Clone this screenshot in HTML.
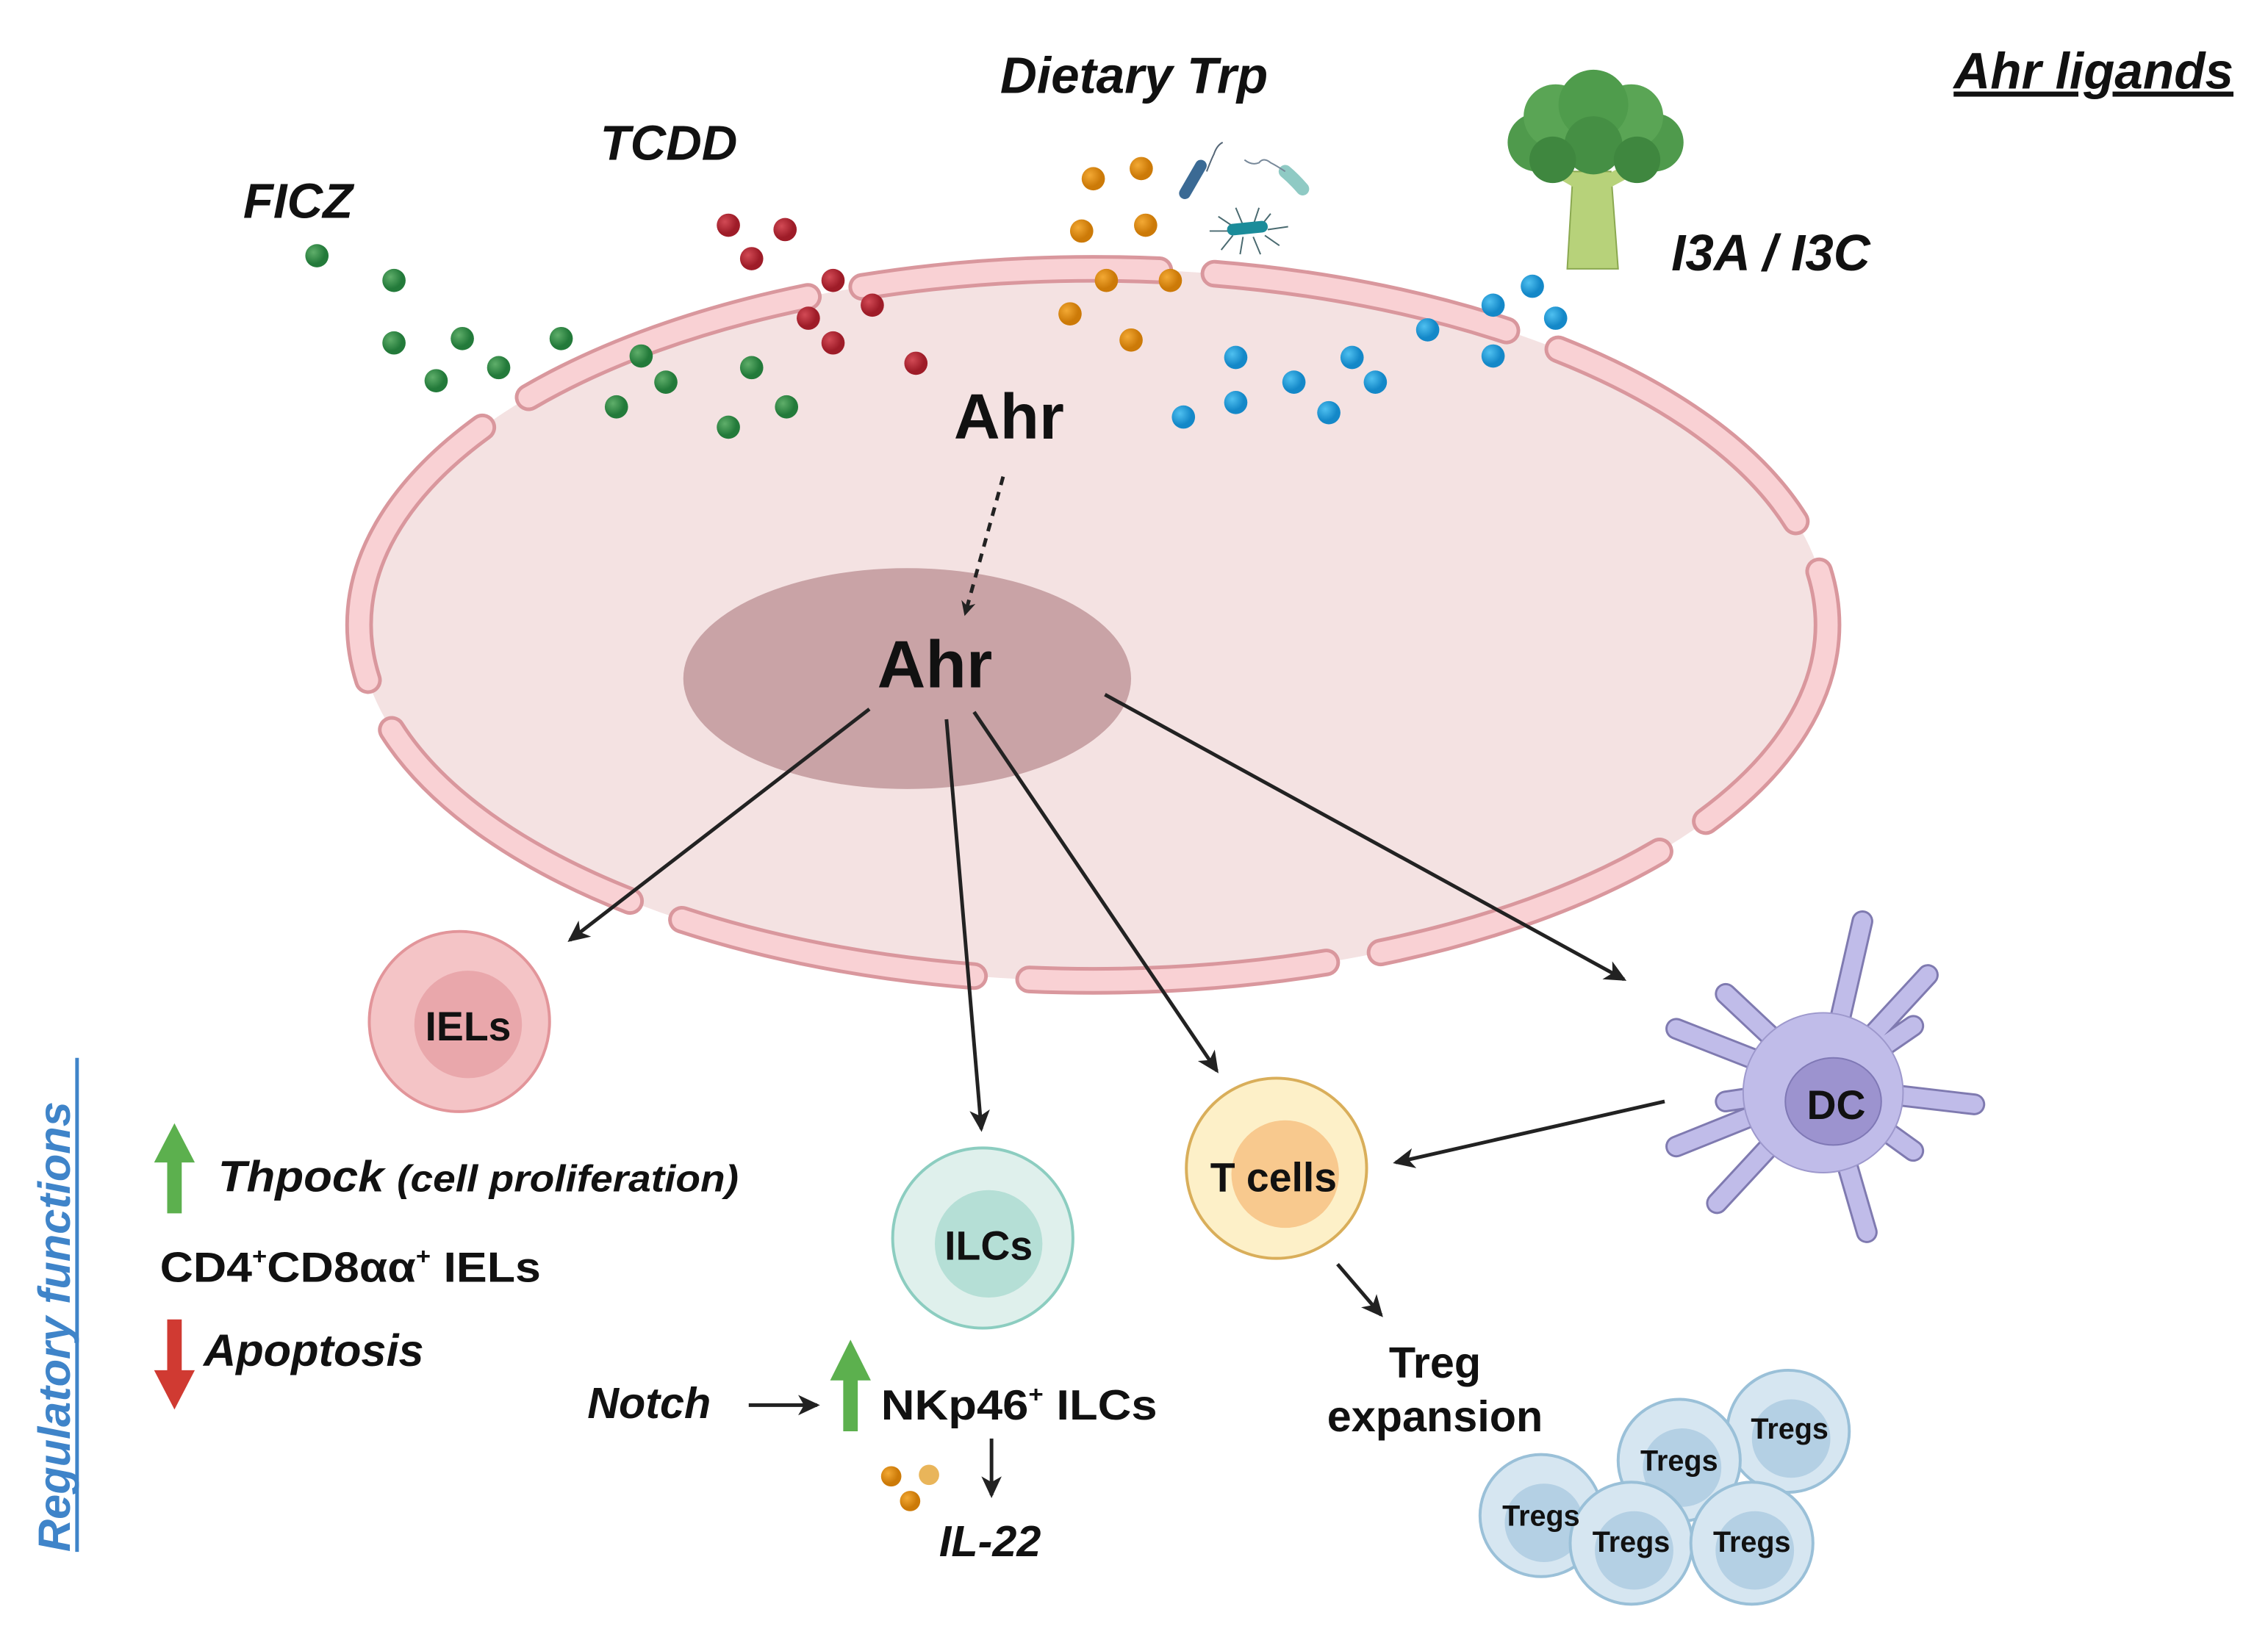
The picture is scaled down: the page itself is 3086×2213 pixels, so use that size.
<!DOCTYPE html>
<html><head><meta charset="utf-8"><style>
html,body{margin:0;padding:0;background:#fff;}
svg{display:block;}
text{font-family:"Liberation Sans",sans-serif;font-weight:bold;fill:#111;}
</style></head><body>
<svg width="3086" height="2213" viewBox="0 0 1560 1119" preserveAspectRatio="none" xmlns="http://www.w3.org/2000/svg">
<defs>
<marker id="ah2" markerWidth="16" markerHeight="16" refX="13" refY="8" orient="auto" markerUnits="userSpaceOnUse"><path d="M0,1 L15,8 L0,15 L4,8 Z" fill="#222"/></marker>
<marker id="ah" markerWidth="10" markerHeight="10" refX="8" refY="5" orient="auto" markerUnits="userSpaceOnUse"><path d="M0,0 L10,5 L0,10 L3,5 Z" fill="#222"/></marker>
<radialGradient id="gd" cx="35%" cy="35%"><stop offset="0" stop-color="#5fae6a"/><stop offset="1" stop-color="#237a3a"/></radialGradient>
<radialGradient id="rd" cx="35%" cy="35%"><stop offset="0" stop-color="#d24a55"/><stop offset="1" stop-color="#9e1c28"/></radialGradient>
<radialGradient id="od" cx="35%" cy="35%"><stop offset="0" stop-color="#f3a934"/><stop offset="1" stop-color="#cc7a08"/></radialGradient>
<radialGradient id="bd" cx="35%" cy="35%"><stop offset="0" stop-color="#4fc0f0"/><stop offset="1" stop-color="#1488c8"/></radialGradient>
</defs>

<ellipse cx="752" cy="430" rx="505" ry="245" fill="#f4e2e2"/>
<ellipse cx="752" cy="430" rx="505" ry="245" fill="none" stroke="#d9979d" stroke-width="19" stroke-dasharray="205 38" stroke-dashoffset="40" stroke-linecap="round"/>
<ellipse cx="752" cy="430" rx="505" ry="245" fill="none" stroke="#f9d1d4" stroke-width="14" stroke-dasharray="205 38" stroke-dashoffset="40" stroke-linecap="round"/>

<ellipse cx="624" cy="467" rx="154" ry="76" fill="#c9a3a6"/>

<text x="694" y="302" font-size="44" text-anchor="middle">Ahr</text>
<text x="643" y="473" font-size="46" text-anchor="middle">Ahr</text>
<line x1="690" y1="328" x2="664" y2="422" stroke="#222" stroke-width="2.5" stroke-dasharray="6 5" marker-end="url(#ah)"/>

<text x="205" y="150" font-size="34" font-style="italic" text-anchor="middle">FICZ</text>
<text x="460" y="110" font-size="34" font-style="italic" text-anchor="middle">TCDD</text>
<text x="780" y="64" font-size="35" font-style="italic" text-anchor="middle">Dietary Trp</text>
<text x="1440" y="61" font-size="35" font-style="italic" text-anchor="middle" text-decoration="underline">Ahr ligands</text>
<text x="1218" y="186" font-size="35" font-style="italic" text-anchor="middle">I3A / I3C</text>

<g fill="url(#gd)">
<circle cx="218" cy="176" r="8"/><circle cx="271" cy="193" r="8"/><circle cx="271" cy="236" r="8"/><circle cx="318" cy="233" r="8"/><circle cx="300" cy="262" r="8"/><circle cx="343" cy="253" r="8"/><circle cx="386" cy="233" r="8"/><circle cx="441" cy="245" r="8"/><circle cx="458" cy="263" r="8"/><circle cx="424" cy="280" r="8"/><circle cx="517" cy="253" r="8"/><circle cx="501" cy="294" r="8"/><circle cx="541" cy="280" r="8"/>
</g>
<g fill="url(#rd)">
<circle cx="501" cy="155" r="8"/><circle cx="540" cy="158" r="8"/><circle cx="517" cy="178" r="8"/><circle cx="573" cy="193" r="8"/><circle cx="556" cy="219" r="8"/><circle cx="600" cy="210" r="8"/><circle cx="573" cy="236" r="8"/><circle cx="630" cy="250" r="8"/>
</g>
<g fill="url(#od)">
<circle cx="752" cy="123" r="8"/><circle cx="785" cy="116" r="8"/><circle cx="744" cy="159" r="8"/><circle cx="788" cy="155" r="8"/><circle cx="761" cy="193" r="8"/><circle cx="805" cy="193" r="8"/><circle cx="736" cy="216" r="8"/><circle cx="778" cy="234" r="8"/>
</g>
<g fill="url(#bd)">
<circle cx="1054" cy="197" r="8"/><circle cx="1027" cy="210" r="8"/><circle cx="1070" cy="219" r="8"/><circle cx="982" cy="227" r="8"/><circle cx="1027" cy="245" r="8"/><circle cx="850" cy="246" r="8"/><circle cx="930" cy="246" r="8"/><circle cx="850" cy="277" r="8"/><circle cx="890" cy="263" r="8"/><circle cx="946" cy="263" r="8"/><circle cx="814" cy="287" r="8"/><circle cx="914" cy="284" r="8"/>
</g>

<g>
<path d="M830,118 q3,-8 5,-12 q2,-6 6,-8" fill="none" stroke="#567" stroke-width="1"/>
<line x1="826" y1="114" x2="815" y2="133" stroke="#3b6a94" stroke-width="8" stroke-linecap="round"/>
<path d="M884,118 q6,5 12,12" fill="none" stroke="#8fcac4" stroke-width="9" stroke-linecap="round"/>
<path d="M884,118 q-6,-4 -10,-6 q-5,-4 -8,0 q-5,2 -10,-2" fill="none" stroke="#789" stroke-width="1"/>
<g stroke="#4a6a70" stroke-width="1" fill="none">
<path d="M850,157 l-12,-8 M855,155 l-5,-12 M862,155 l4,-12 M866,157 l8,-10 M872,158 l14,-2 M870,162 l10,7 M862,163 l5,12 M855,163 l-2,12 M848,162 l-8,10 M846,159 l-14,0"/>
</g>
<line x1="848" y1="158" x2="868" y2="156" stroke="#1b8c9a" stroke-width="8" stroke-linecap="round"/>
</g>

<g>
<path d="M1082,118 L1078,185 L1113,185 L1108,118 Z" fill="#b7d27a" stroke="#8aa850" stroke-width="1"/>
<path d="M1090,128 L1062,112 M1100,128 L1130,112" stroke="#b7d27a" stroke-width="9"/>
<circle cx="1057" cy="98" r="20" fill="#4f9a4c"/>
<circle cx="1138" cy="98" r="20" fill="#4f9a4c"/>
<circle cx="1070" cy="80" r="22" fill="#5aa555"/>
<circle cx="1122" cy="80" r="22" fill="#5aa555"/>
<circle cx="1096" cy="72" r="24" fill="#4f9c4c"/>
<circle cx="1096" cy="100" r="20" fill="#458f44"/>
<circle cx="1068" cy="110" r="16" fill="#3f873f"/>
<circle cx="1126" cy="110" r="16" fill="#3f873f"/>
</g>

<g stroke="#222" stroke-width="2.5" fill="none" marker-end="url(#ah2)">
<line x1="598" y1="488" x2="392" y2="647"/>
<line x1="651" y1="495" x2="675" y2="777"/>
<line x1="670" y1="490" x2="837" y2="737"/>
<line x1="760" y1="478" x2="1117" y2="674"/>
<line x1="1145" y1="758" x2="960" y2="800"/>
<line x1="920" y1="870" x2="950" y2="905"/>
<line x1="515" y1="967" x2="562" y2="967"/>
<line x1="682" y1="990" x2="682" y2="1029"/>
</g>

<circle cx="316" cy="703" r="62" fill="#f4c4c6" stroke="#e2959a" stroke-width="2"/>
<circle cx="322" cy="705" r="37" fill="#e9a7ab"/>
<text x="322" y="716" font-size="28" text-anchor="middle">IELs</text>

<circle cx="676" cy="852" r="62" fill="#dff0ec" stroke="#8ccdc0" stroke-width="2"/>
<circle cx="680" cy="856" r="37" fill="#b5dfd6"/>
<text x="680" y="867" font-size="28" text-anchor="middle">ILCs</text>

<circle cx="878" cy="804" r="62" fill="#fdf0c8" stroke="#d9ae5a" stroke-width="2"/>
<circle cx="884" cy="808" r="37" fill="#f8c98e"/>
<text x="876" y="820" font-size="28" text-anchor="middle">T cells</text>

<g stroke-linecap="round" fill="none">
<g stroke="#7f7ab0" stroke-width="15">
<path d="M1255,748 L1281,634 M1255,748 L1326,671 M1255,748 L1316,706 M1255,748 L1358,760 M1255,748 L1316,792 M1255,748 L1284,848 M1255,748 L1181,828 M1255,748 L1153,789 M1255,748 L1187,758 M1255,748 L1153,708 M1255,748 L1187,684"/>
</g>
<g stroke="#c0bce9" stroke-width="12">
<path d="M1255,748 L1281,634 M1255,748 L1326,671 M1255,748 L1316,706 M1255,748 L1358,760 M1255,748 L1316,792 M1255,748 L1284,848 M1255,748 L1181,828 M1255,748 L1153,789 M1255,748 L1187,758 M1255,748 L1153,708 M1255,748 L1187,684"/>
</g>
</g>
<circle cx="1254" cy="752" r="55" fill="#c0bce9" stroke="#9d98cc" stroke-width="1"/>
<ellipse cx="1261" cy="758" rx="33" ry="30" fill="#9c93cf" stroke="#7f78b5" stroke-width="1"/>
<text x="1263" y="770" font-size="28" text-anchor="middle">DC</text>

<text x="987" y="948" font-size="30" text-anchor="middle">Treg</text>
<text x="987" y="985" font-size="30" text-anchor="middle">expansion</text>
<g>
<circle cx="1230" cy="985" r="42" fill="#d6e6f1" stroke="#9ac0d8" stroke-width="2"/><circle cx="1232" cy="990" r="27" fill="#b4d0e4"/>
<circle cx="1155" cy="1005" r="42" fill="#d6e6f1" stroke="#9ac0d8" stroke-width="2"/><circle cx="1157" cy="1010" r="27" fill="#b4d0e4"/>
<circle cx="1060" cy="1043" r="42" fill="#d6e6f1" stroke="#9ac0d8" stroke-width="2"/><circle cx="1062" cy="1048" r="27" fill="#b4d0e4"/>
<circle cx="1122" cy="1062" r="42" fill="#d6e6f1" stroke="#9ac0d8" stroke-width="2"/><circle cx="1124" cy="1067" r="27" fill="#b4d0e4"/>
<circle cx="1205" cy="1062" r="42" fill="#d6e6f1" stroke="#9ac0d8" stroke-width="2"/><circle cx="1207" cy="1067" r="27" fill="#b4d0e4"/>
</g>
<text x="1231" y="990" font-size="20" text-anchor="middle">Tregs</text>
<text x="1155" y="1012" font-size="20" text-anchor="middle">Tregs</text>
<text x="1060" y="1050" font-size="20" text-anchor="middle">Tregs</text>
<text x="1122" y="1068" font-size="20" text-anchor="middle">Tregs</text>
<text x="1205" y="1068" font-size="20" text-anchor="middle">Tregs</text>

<text transform="translate(48,1068) rotate(-90)" font-size="31" font-style="italic" style="fill:#3f84c9">Regulatory functions</text>
<line x1="53" y1="1068" x2="53" y2="728" stroke="#3f84c9" stroke-width="2.5"/>

<path d="M115,835 L115,800 L106,800 L120,773 L134,800 L125,800 L125,835 Z" fill="#5cb04e"/>
<text x="150" y="820" font-size="30" font-style="italic" textLength="358" lengthAdjust="spacingAndGlyphs">Thpock <tspan font-size="26">(cell proliferation)</tspan></text>
<text x="110" y="882" font-size="29" textLength="262" lengthAdjust="spacingAndGlyphs">CD4<tspan font-size="16" dy="-12">+</tspan><tspan dy="12">CD8αα</tspan><tspan font-size="16" dy="-12">+</tspan><tspan dy="12"> IELs</tspan></text>
<path d="M115,908 L115,943 L106,943 L120,970 L134,943 L125,943 L125,908 Z" fill="#d03a32"/>
<text x="140" y="940" font-size="31" font-style="italic">Apoptosis</text>

<text x="404" y="976" font-size="30" font-style="italic">Notch</text>
<path d="M580,985 L580,950 L571,950 L585,922 L599,950 L590,950 L590,985 Z" fill="#5cb04e"/>
<text x="606" y="977" font-size="29" textLength="190" lengthAdjust="spacingAndGlyphs">NKp46<tspan font-size="16" dy="-12">+</tspan><tspan dy="12"> ILCs</tspan></text>
<circle cx="613" cy="1016" r="7" fill="url(#od)"/>
<circle cx="639" cy="1015" r="7" fill="#e9b55a"/>
<circle cx="626" cy="1033" r="7" fill="url(#od)"/>
<text x="681" y="1071" font-size="30" font-style="italic" text-anchor="middle">IL-22</text>
</svg>
</body></html>
